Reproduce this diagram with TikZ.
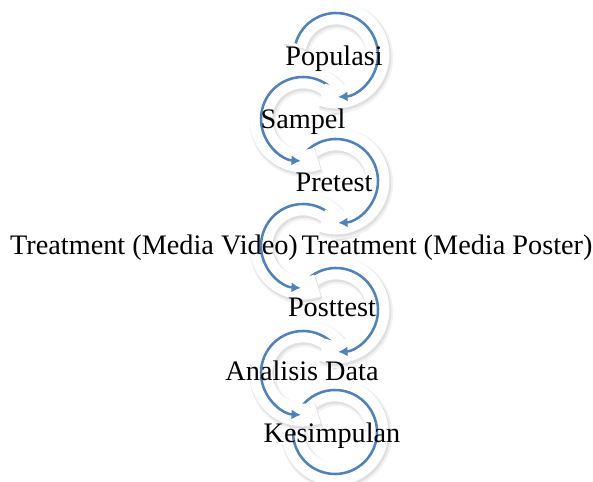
\documentclass[tikz,border=0pt]{standalone}
\usepackage{fontspec}
\setmainfont{Liberation Serif}
\usetikzlibrary{arrows.meta, calc}
\definecolor{arcblue}{HTML}{4F81BD}

\begin{document}
\begin{tikzpicture}[x=0.75pt, y=0.75pt, line join=round,
	stage/.style={font=\fontsize{21.2}{24}\selectfont, anchor=base, inner sep=0pt},
	soft shadow/.style={line width=20pt, black!5, line cap=butt},
	ring shadow/.style={line width=18pt, black!12, line cap=butt},
	ring/.style={line width=17pt, white, line cap=butt},
	flow/.style={line width=1.9pt, arcblue, line cap=butt},
	tipped/.style={-{Latex[length=7pt,width=7.5pt]}},
	plain/.style={}]
	
	\useasboundingbox (0,0) rectangle (593,482);
	
	%========================
	% circle centres (right / left alternately)
	%========================
	\coordinate (c1) at (336,427);
	\coordinate (c2) at (303,363);
	\coordinate (c3) at (336,301);
	\coordinate (c4) at (303,236);
	\coordinate (c5) at (336,172);
	\coordinate (c6) at (303,109);
	\coordinate (c7) at (335,50);
	
	% circular arrows, last one first so that each sits over the next
	\foreach \c/\a/\b/\ra/\rb/\t in {c7/164/-187/168/-190/plain,
		c6/16/267/12/290/tipped, c5/164/-87/168/-110/tipped,
		c4/16/267/12/290/tipped, c3/164/-87/168/-110/tipped,
		c2/16/267/12/290/tipped, c1/164/-87/168/-110/tipped}{
		\draw[soft shadow] ($(\c)+(\ra:42)+(1.8,-2.6)$)
		arc[start angle=\ra, end angle=\rb, radius=42];
		\draw[ring shadow] ($(\c)+(\ra:42)+(1.2,-1.8)$)
		arc[start angle=\ra, end angle=\rb, radius=42];
		\draw[ring] ($(\c)+(\ra:42)$)
		arc[start angle=\ra, end angle=\rb, radius=42];
		\draw[flow, \t] ($(\c)+(\a:42)$)
		arc[start angle=\a, end angle=\b, radius=42];
	}
	
	%========================
	% labels
	%========================
	\node[stage] (populasi) at (334,416) {Populasi};
	\node[stage] (sampel) at (303,353) {Sampel};
	\node[stage] (pretest) at (334,290) {Pretest};
	\node[stage] (video) at (154,227) {Treatment (Media Video)};
	\node[stage] (poster) at (447,227) {Treatment (Media Poster)};
	\node[stage] (posttest) at (332,165) {Posttest};
	\node[stage] (analisis) at (302,101) {Analisis Data};
	\node[stage] (kesimpulan) at (332,39) {Kesimpulan};
	
\end{tikzpicture}
\end{document}
